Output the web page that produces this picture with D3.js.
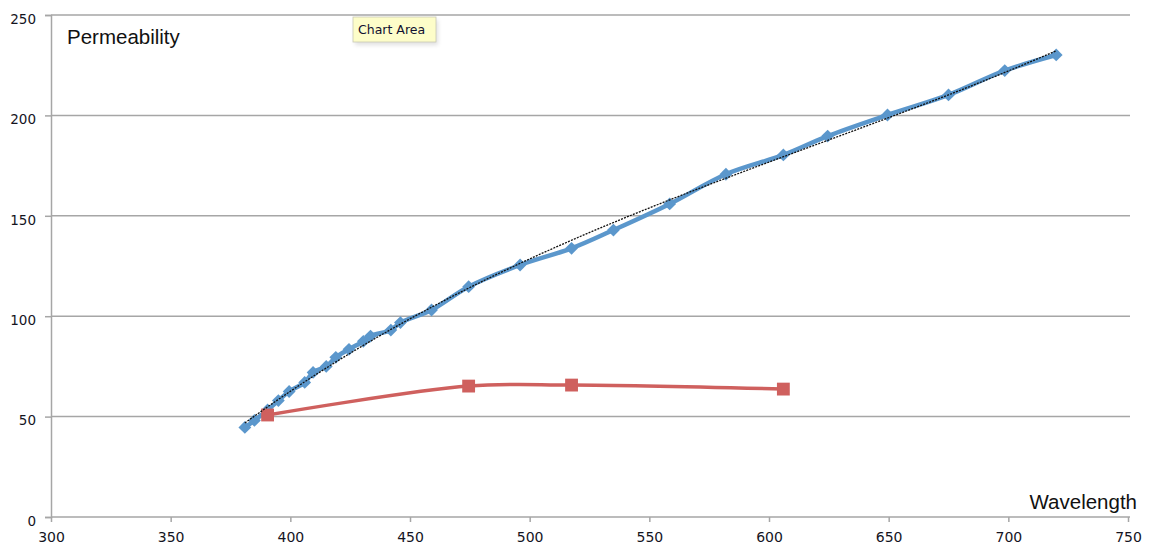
<!DOCTYPE html>
<html>
<head>
<meta charset="utf-8">
<script src="https://cdn.jsdelivr.net/npm/d3@7"></script>
<style>
  html, body { margin: 0; padding: 0; background: #fff; }
  svg { display: block; }
</style>
</head>
<body>
<svg id="chart" width="1151" height="552"></svg>
<script>
// Wavelength (nm) and permeability readings
const blueWavelength = [381, 385, 390.5, 395, 399.5, 406, 409.5, 415, 419, 424.5, 430.5, 433.5, 442, 446, 459, 474.5, 496, 517.5, 535, 558.5, 582, 606, 624.5, 649.5, 675, 698.5, 720];
const bluePermeability = [44.6, 48.1, 53.3, 58, 62.5, 67, 72, 75, 79.5, 83.5, 87.5, 90.1, 93.1, 96.8, 103.1, 114.7, 125.5, 133.8, 142.9, 155.9, 170.7, 180.3, 189.7, 200.2, 210.2, 222.3, 230.1];

const redWavelength = [390.5, 474.5, 517.5, 606];
const redPermeability = [50.8, 65.2, 65.7, 63.7];

const xTicks = [300, 350, 400, 450, 500, 550, 600, 650, 700, 750];
const yTicks = [0, 50, 100, 150, 200, 250];

const svg = d3.select("#chart");
const x = d3.scaleLinear().domain([300, 750]).range([51, 1128]);
const y = d3.scaleLinear().domain([0, 250]).range([517, 15]);

const gridColor = "#a6a6a6";
const tickFont = "'DejaVu Sans', Verdana, sans-serif";

// horizontal gridlines
svg.append("g").selectAll("line").data(yTicks.filter(d => d > 0)).join("line")
  .attr("x1", x(300)).attr("x2", 1130)
  .attr("y1", d => y(d)).attr("y2", d => y(d))
  .attr("stroke", gridColor).attr("stroke-width", 1.5);

// y axis
const yAxis = svg.append("g").attr("transform", `translate(${x(300)},0)`)
  .call(d3.axisLeft(y).tickValues(yTicks).tickSize(6).tickPadding(9).tickFormat(d3.format("d")));
yAxis.select(".domain").attr("stroke", gridColor).attr("stroke-width", 1.5);
yAxis.selectAll(".tick line").attr("stroke", gridColor).attr("stroke-width", 1.5);
yAxis.selectAll(".tick text").attr("font-family", tickFont).attr("font-size", 13.5)
  .attr("fill", "#14141e").attr("dy", "0.62em");

// x axis
const xAxis = svg.append("g").attr("transform", `translate(0,${y(0)})`)
  .call(d3.axisBottom(x).tickValues(xTicks).tickSize(5).tickPadding(10).tickFormat(d3.format("d")));
xAxis.select(".domain").attr("stroke", gridColor).attr("stroke-width", 1.5)
  .attr("d", `M${x(300)},0H1130`);
xAxis.selectAll(".tick line").attr("stroke", gridColor).attr("stroke-width", 1.5);
xAxis.selectAll(".tick text").attr("font-family", tickFont).attr("font-size", 14)
  .attr("fill", "#14141e");

// axis titles
svg.append("text").attr("x", 67).attr("y", 44)
  .attr("font-family", "'Liberation Sans', Arial, sans-serif").attr("font-size", 20.5)
  .attr("fill", "#111").text("Permeability");
svg.append("text").attr("x", 1137).attr("y", 509).attr("text-anchor", "end")
  .attr("font-family", "'Liberation Sans', Arial, sans-serif").attr("font-size", 20.5)
  .attr("fill", "#111").text("Wavelength");

const blue = blueWavelength.map((w, i) => [w, bluePermeability[i]]);
const red = redWavelength.map((w, i) => [w, redPermeability[i]]);

const smooth = d3.line().x(d => x(d[0])).y(d => y(d[1])).curve(d3.curveCatmullRom.alpha(0.5));

// series lines
svg.append("path").datum(blue).attr("d", smooth)
  .attr("fill", "none").attr("stroke", "#5b97cc").attr("stroke-width", 4.5)
  .attr("stroke-linejoin", "round");
svg.append("path").datum(red).attr("d", smooth)
  .attr("fill", "none").attr("stroke", "#cf605e").attr("stroke-width", 3.5)
  .attr("stroke-linejoin", "round");

// markers
svg.append("g").selectAll("path").data(blue).join("path")
  .attr("d", d3.symbol(d3.symbolSquare, 82)())
  .attr("transform", d => `translate(${x(d[0])},${y(d[1])}) rotate(45)`)
  .attr("fill", "#5b97cc");
svg.append("g").selectAll("path").data(red).join("path")
  .attr("d", d3.symbol(d3.symbolSquare, 165)())
  .attr("transform", d => `translate(${x(d[0])},${y(d[1])})`)
  .attr("fill", "#cf605e");

// cubic least-squares trendline over the blue series
function polyFit(pts, order) {
  const m = d3.mean(pts, p => p[0]);
  const sc = d3.deviation(pts, p => p[0]);
  const k = order + 1;
  const A = Array.from({length: k}, () => new Array(k + 1).fill(0));
  pts.forEach(([a, b]) => {
    const u = (a - m) / sc;
    for (let i = 0; i < k; i++) {
      for (let j = 0; j < k; j++) A[i][j] += Math.pow(u, i + j);
      A[i][k] += b * Math.pow(u, i);
    }
  });
  for (let c = 0; c < k; c++) {
    let p = c;
    for (let r = c + 1; r < k; r++) if (Math.abs(A[r][c]) > Math.abs(A[p][c])) p = r;
    [A[c], A[p]] = [A[p], A[c]];
    for (let r = 0; r < k; r++) {
      if (r === c) continue;
      const f = A[r][c] / A[c][c];
      for (let j = c; j <= k; j++) A[r][j] -= f * A[c][j];
    }
  }
  const coef = A.map((row, i) => row[k] / row[i]);
  return w => {
    const u = (w - m) / sc;
    return coef.reduce((s, c, i) => s + c * Math.pow(u, i), 0);
  };
}
const fit = polyFit(blue, 3);
const [w0, w1] = d3.extent(blueWavelength);
const trend = d3.range(w0, w1 + 0.001, (w1 - w0) / 150).map(w => [w, fit(w)]);
svg.append("path").datum(trend)
  .attr("d", d3.line().x(d => x(d[0])).y(d => y(d[1])))
  .attr("fill", "none").attr("stroke", "#111").attr("stroke-width", 1.3)
  .attr("stroke-dasharray", "2,1.2");

// hover tooltip box
const tip = svg.append("g").attr("transform", "translate(353,17)");
tip.append("rect").attr("x", 2).attr("y", 3).attr("width", 83).attr("height", 25)
  .attr("fill", "#000").attr("opacity", 0.12).style("filter", "blur(2px)");
tip.append("rect").attr("width", 83).attr("height", 25)
  .attr("fill", "#fdfdc9").attr("stroke", "#c8c8b4").attr("stroke-width", 0.8);
tip.append("text").attr("x", 5).attr("y", 17)
  .attr("font-family", tickFont).attr("font-size", 12.5).attr("fill", "#101030")
  .text("Chart Area");
</script>
</body>
</html>
